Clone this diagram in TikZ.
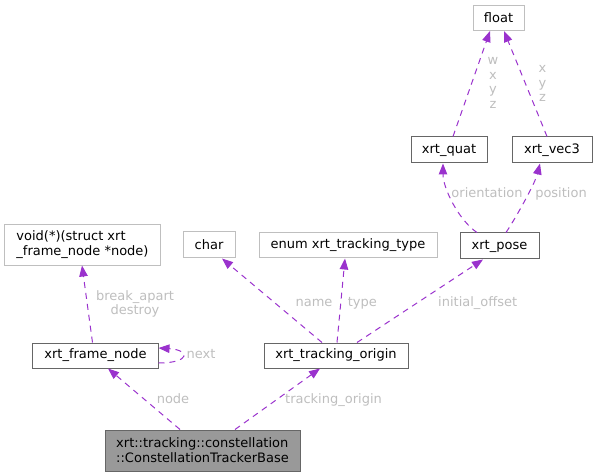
\documentclass[tikz,border=0pt]{standalone}
\usepackage{fontspec}
\setmainfont{DejaVu Sans}
\usetikzlibrary{arrows.meta}
\definecolor{edgec}{HTML}{9A32CD}
\definecolor{lblc}{HTML}{BEBEBE}
\definecolor{extb}{HTML}{BFBFBF}
\definecolor{docb}{HTML}{666666}
\definecolor{basef}{HTML}{999999}
\begin{document}
\begin{tikzpicture}[x=1bp,y=-1bp,
  every node/.style={font=\fontsize{13bp}{15bp}\selectfont, inner sep=0pt},
  ext/.style={draw=extb, line width=1bp, minimum height=25bp, fill=white},
  doc/.style={draw=docb, line width=1bp, minimum height=25bp, fill=white},
  edge/.style={draw=edgec, line width=1bp, dash pattern=on 6bp off 5bp,
    -{Triangle[length=11bp,width=8.5bp,fill=edgec]}},
  lbl/.style={text=lblc}]
\useasboundingbox (0,0) rectangle (597,476);
% nodes
\node[ext, minimum width=51bp] (float) at (498.5,18) {float};
\node[doc, minimum width=76bp, minimum height=26bp] (quat) at (449,150) {xrt\_quat};
\node[doc, minimum width=80bp, minimum height=26bp] (vec3) at (552,150) {xrt\_vec3};
\node[doc, minimum width=79bp, minimum height=26bp] (pose) at (499.5,246) {xrt\_pose};
\node[ext, minimum width=178bp] (enum) at (348,245.5) {enum xrt\_tracking\_type};
\node[ext, minimum width=52bp, minimum height=26bp] (char) at (209,245) {char};
\node[ext, minimum width=155bp, minimum height=40bp, align=left] (void) at (82.5,245) {void(*)(struct xrt\\\_frame\_node *node)};
\node[doc, minimum width=125bp] (fnode) at (95.5,355.5) {xrt\_frame\_node};
\node[doc, minimum width=144bp] (torigin) at (336,355.5) {xrt\_tracking\_origin};
\node[draw=docb, line width=1bp, fill=basef, minimum width=195bp, minimum height=41bp, align=left] (base) at (202.5,450.5) {xrt::tracking::constellation\\::ConstellationTrackerBase};
% edges
\draw[edge] ([xshift=-22.5bp]base.north) -- ([xshift=12.5bp]fnode.south);
\draw[edge] ([xshift=32.5bp]base.north) -- ([xshift=-16bp]torigin.south);
\draw[edge] ([yshift=-7.5bp]fnode.east) .. controls +(32,0) and +(32,2) .. ([yshift=7.5bp]fnode.east);
\draw[edge] ([xshift=-3bp]fnode.north) -- ([xshift=-0.5bp]void.south);
\draw[edge] ([xshift=-14bp]torigin.north) -- ([xshift=13bp]char.south);
\draw[edge] ([xshift=1bp]torigin.north) -- ([xshift=-3bp]enum.south);
\draw[edge] ([xshift=21bp]torigin.north) -- ([xshift=-16.5bp]pose.south);
\draw[edge] ([xshift=-22.5bp]pose.north) .. controls +(-18,-12) and +(0,25) .. ([xshift=-6bp]quat.south);
\draw[edge] ([xshift=6.5bp]pose.north) .. controls +(10,-15) and +(-5,20) .. ([xshift=-12bp]vec3.south);
\draw[edge] ([xshift=4bp]quat.north) -- ([xshift=-8.5bp]float.south);
\draw[edge] ([xshift=-5bp]vec3.north) -- ([xshift=5.5bp]float.south);
% labels
\node[lbl, align=center, font=\fontsize{13bp}{14.7bp}\selectfont] (lwxyz) at (493,83) {w\\x\\y\\z};
\node[lbl, align=center, font=\fontsize{13bp}{14.5bp}\selectfont] (lxyz) at (542.5,83.5) {x\\y\\z};
\node[lbl, anchor=base] (lorient) at (487,197.3) {orientation};
\node[lbl, anchor=base] (lpos) at (561,197.3) {position};
\node[lbl, anchor=base] (lname) at (314,306.7) {name};
\node[lbl, anchor=base] (ltype) at (362.3,306.7) {type};
\node[lbl, anchor=base] (linit) at (477.7,306.7) {initial\_offset};
\node[lbl, align=center, font=\fontsize{13bp}{14.5bp}\selectfont] (lbreak) at (135,303.8) {break\_apart\\destroy};
\node[lbl, anchor=base] (lnext) at (201,358.5) {next};
\node[lbl, anchor=base] (lnode) at (173,403.3) {node};
\node[lbl, anchor=base] (ltrack) at (333.5,403.2) {tracking\_origin};
\end{tikzpicture}
\end{document}
